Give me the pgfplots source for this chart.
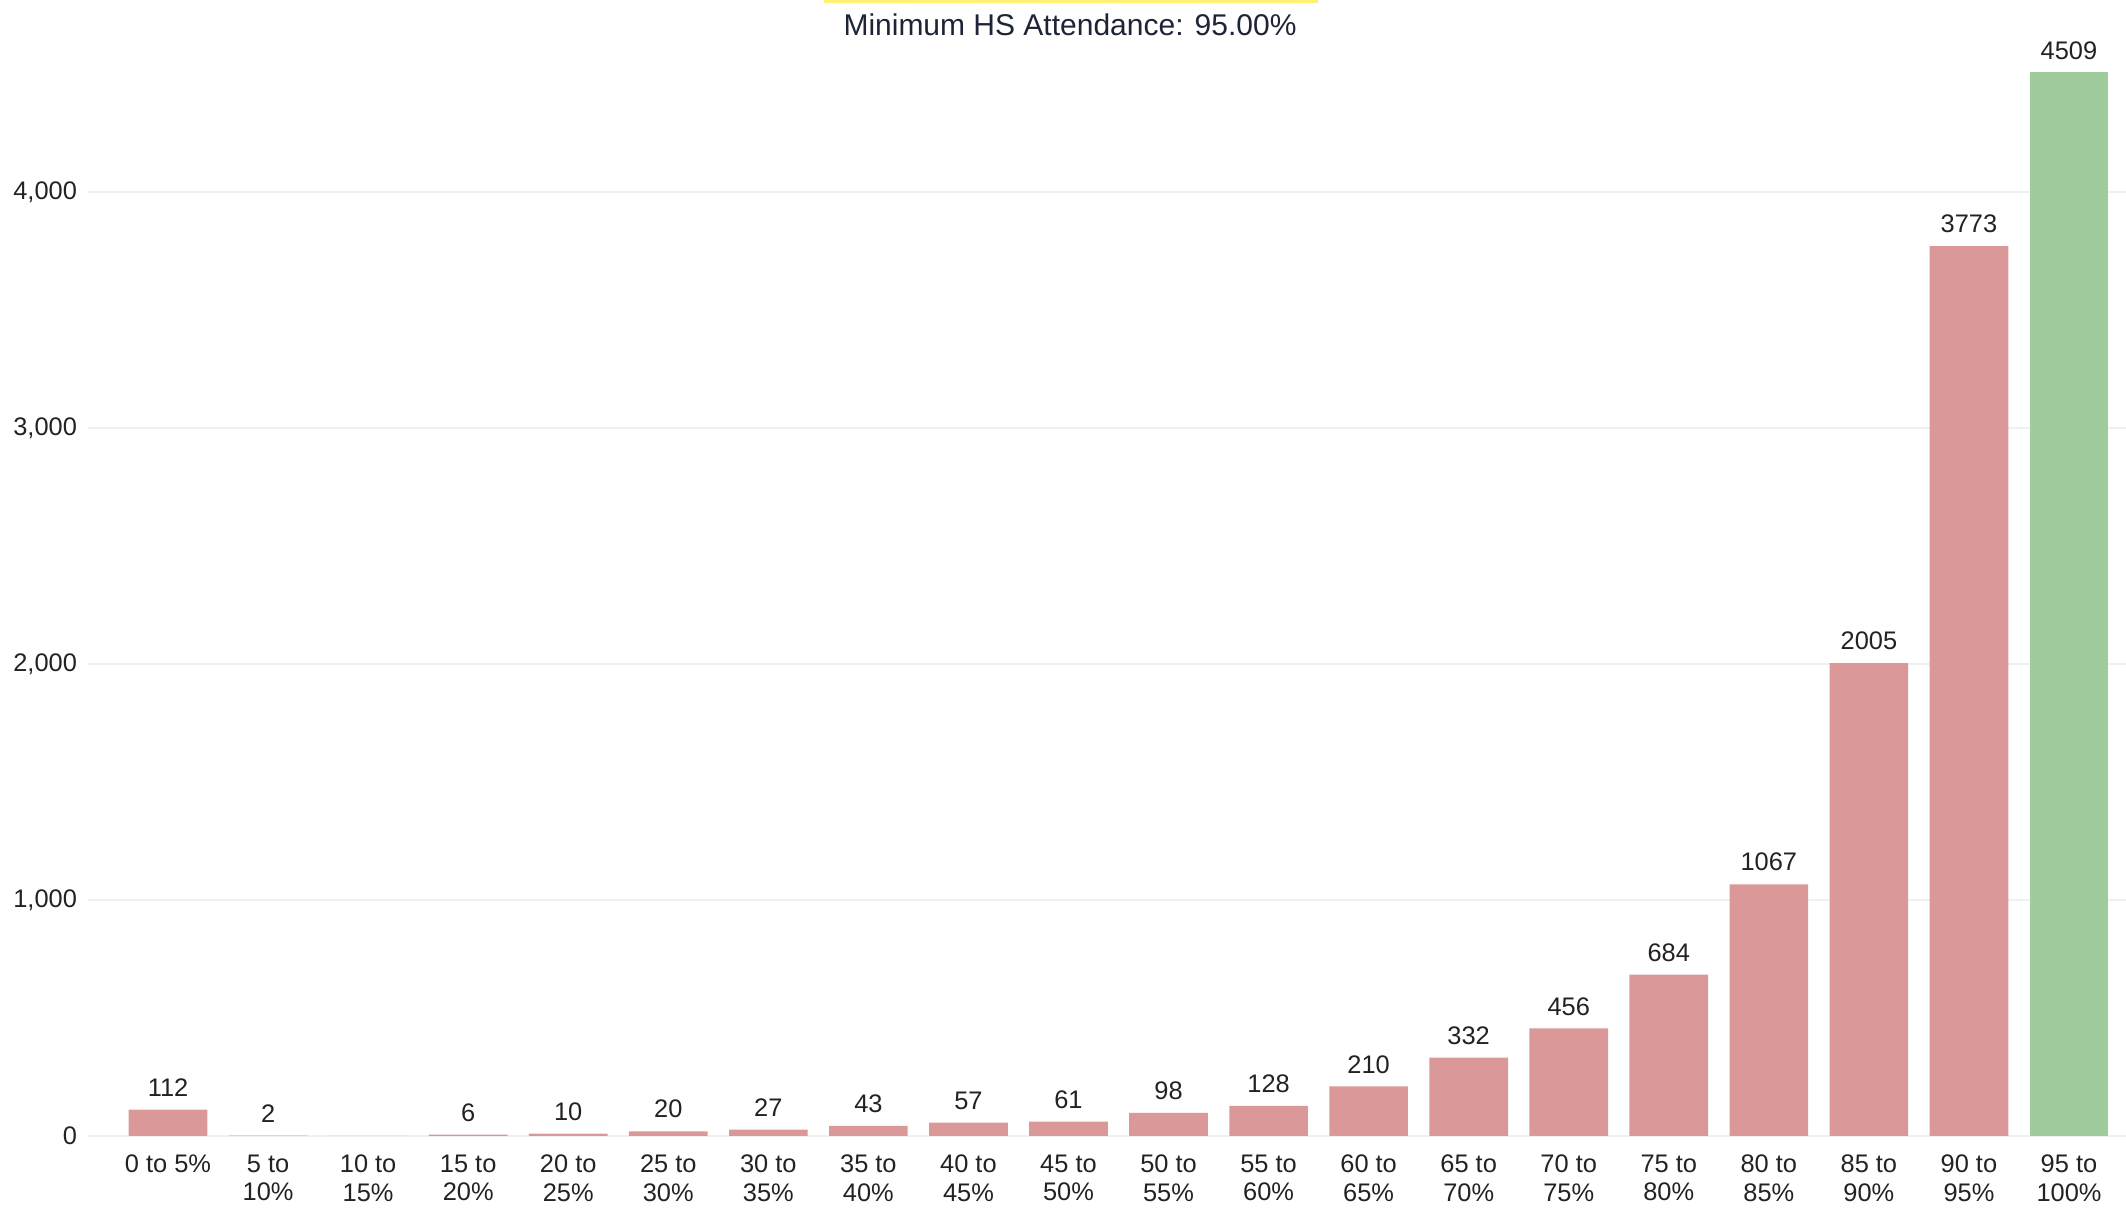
\documentclass[border=0pt]{standalone}
\usepackage{pgfplots}
\pgfplotsset{compat=1.18}
\usepackage{fontspec}
\setmainfont{Liberation Sans}
\definecolor{barred}{RGB}{218,152,153}
\definecolor{bargreen}{RGB}{160,203,156}
\definecolor{gridc}{RGB}{240,240,240}
\definecolor{txt}{RGB}{34,34,34}
\definecolor{titlec}{RGB}{30,36,56}
\definecolor{yel}{RGB}{255,241,118}
\begin{document}
\begin{tikzpicture}
\path[use as bounding box] (0,0) rectangle (1063pt,609pt);
\begin{axis}[
  at={(44pt,41pt)}, anchor=south west,
  scale only axis, width=1019pt, height=568pt,
  xmin=-0.8, xmax=19.57, ymin=0, ymax=4816,
  ybar, bar width=0.786,
  axis line style={draw=none},
  major tick length=0pt,
  ymajorgrids, grid style={color=gridc, line width=1pt},
  ytick={0,1000,2000,3000,4000},
  /pgf/number format/assume math mode=true,
  /pgf/number format/1000 sep={,},
  yticklabel style={font=\fontsize{12.7}{15}\selectfont, text=txt, anchor=east, xshift=-2pt},
  xtick={0,...,19},
  xticklabels={{0 to 5\%},{5 to\\10\%},{10 to\\15\%},{15 to\\20\%},{20 to\\25\%},{25 to\\30\%},{30 to\\35\%},{35 to\\40\%},{40 to\\45\%},{45 to\\50\%},{50 to\\55\%},{55 to\\60\%},{60 to\\65\%},{65 to\\70\%},{70 to\\75\%},{75 to\\80\%},{80 to\\85\%},{85 to\\90\%},{90 to\\95\%},{95 to\\100\%}},
  xticklabel style={font=\fontsize{12.7}{14.2}\selectfont, text=txt, align=center, anchor=north, yshift=-6pt},
  point meta=explicit symbolic,
  nodes near coords,
  every node near coord/.append style={font=\fontsize{12.7}{15}\selectfont, text=txt, yshift=3pt},
  clip=false,
]
\addplot[fill=barred, draw=none, bar shift=0pt] coordinates {
(0,112) [112]
(1,2) [2]
(2,0) []
(3,6) [6]
(4,10) [10]
(5,20) [20]
(6,27) [27]
(7,43) [43]
(8,57) [57]
(9,61) [61]
(10,98) [98]
(11,128) [128]
(12,210) [210]
(13,332) [332]
(14,456) [456]
(15,684) [684]
(16,1067) [1067]
(17,2005) [2005]
(18,3773) [3773]
};
\addplot[fill=bargreen, draw=none, bar shift=0pt] coordinates {
(19,4509) [4509]
};
\end{axis}
\fill[yel] (412pt,607.6pt) rectangle (659pt,609pt);
\node[font=\fontsize{15}{18}\selectfont, text=titlec] at (535pt,596.5pt) {Minimum HS Attendance: 95.00\%};
\end{tikzpicture}
\end{document}
